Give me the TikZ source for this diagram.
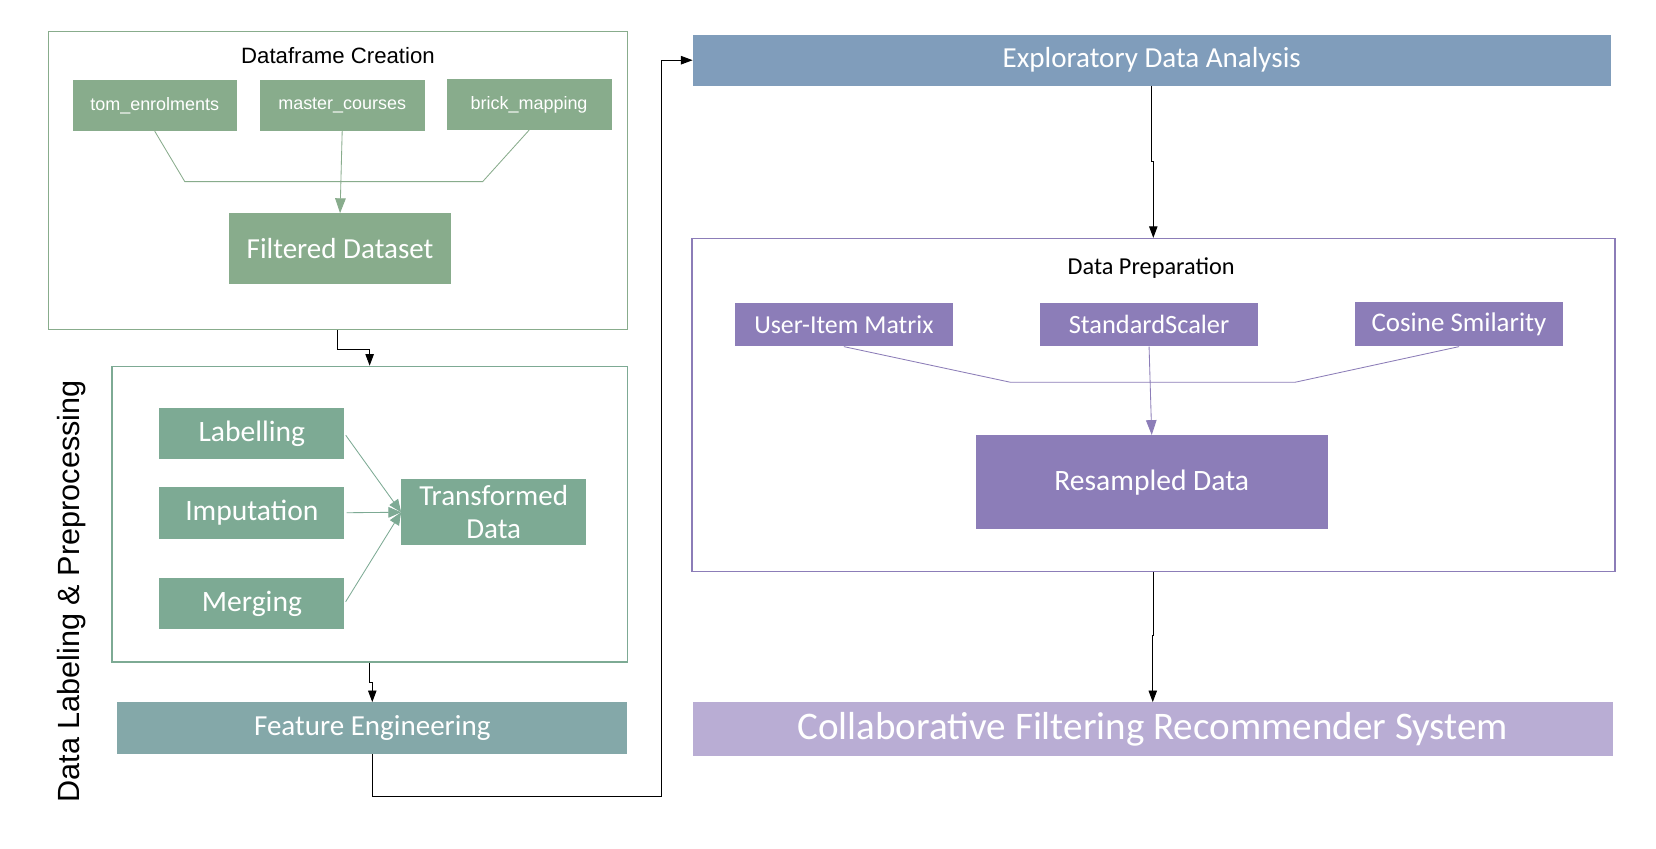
\documentclass[tikz,border=0pt]{standalone}
\usepackage{fontspec}
\setmainfont{Carlito}
\newfontfamily\widefont{Liberation Sans}
\usetikzlibrary{arrows.meta}
\definecolor{mygreen}{RGB}{136,172,140}
\definecolor{myteal}{RGB}{125,170,148}
\definecolor{mygrey}{RGB}{132,168,169}
\definecolor{myblue}{RGB}{128,157,187}
\definecolor{mypurple}{RGB}{140,125,184}
\definecolor{mylilac}{RGB}{185,173,212}

\begin{document}
\begin{tikzpicture}[x=1pt, y=-1pt,
  box/.style={rectangle, inner sep=0pt, text=white, align=center},
  frame/.style={draw, line width=1.5pt, fill=white, inner sep=0pt},
  link/.style={line width=0.9pt, -{Triangle[length=11pt,width=8pt]}},
  thin/.style={line width=0.8pt}]
  \useasboundingbox (0,0) rectangle (1568,803);

  % Dataframe creation
  \node[frame, draw=mygreen, minimum width=548, minimum height=282] (df) at (320,171) {};
  \node (dftitle) at (320,53) {\widefont\fontsize{21}{24}\selectfont Dataframe Creation};
  \node[box, fill=mygreen, minimum width=155, minimum height=48, font=\widefont\fontsize{17}{20}\selectfont] (tom) at (146.5,100) {tom\_enrolments};
  \node[box, fill=mygreen, minimum width=156, minimum height=48, font=\widefont\fontsize{17}{20}\selectfont] (master) at (324,100) {master\_courses};
  \node[box, fill=mygreen, minimum width=156, minimum height=48, font=\widefont\fontsize{17}{20}\selectfont] (brick) at (501,99) {brick\_mapping};
  \node[box, fill=mygreen, minimum width=210, minimum height=67, font=\fontsize{27.5}{30}\selectfont] (filt) at (322,235.5) {Filtered Dataset};
  \coordinate (gl) at (175,172);
  \coordinate (gr) at (457,172);
  \draw[thin, mygreen] (tom.south) -- (gl) -- (gr) -- (brick.south);
  \draw[thin, mygreen, -{Triangle[length=14pt,width=10pt]}] (master.south) -- (filt.north);

  % Preprocessing
  \node[frame, draw=myteal, minimum width=488, minimum height=280] (prep) at (350,487) {};
  \node[box, fill=myteal, minimum width=175, minimum height=49, font=\fontsize{28}{30}\selectfont] (lab) at (238.5,410.5) {Labelling};
  \node[box, fill=myteal, minimum width=175, minimum height=49, font=\fontsize{28}{30}\selectfont] (imp) at (238.5,485.5) {Imputation};
  \node[box, fill=myteal, minimum width=175, minimum height=49, font=\fontsize{28}{30}\selectfont] (mer) at (238.5,571.5) {Merging};
  \node[box, fill=myteal, minimum width=175, minimum height=62, font=\fontsize{27.5}{31}\selectfont] (trans) at (467.5,485) {Transformed\\Data};
  \foreach \n in {lab,imp,mer}
    \draw[thin, myteal, shorten <=2pt, -{Triangle[length=12pt,width=10pt]}] (\n.east) -- (trans.west);
  \node[rotate=90, font=\widefont\fontsize{29}{32}\selectfont] (side) at (68,560) {Data Labeling \& Preprocessing};

  % Feature engineering
  \node[box, fill=mygrey, minimum width=483, minimum height=49, font=\fontsize{27.5}{30}\selectfont] (fe) at (352.5,689.5) {Feature Engineering};

  % EDA
  \node[box, fill=myblue, minimum width=869, minimum height=48, font=\fontsize{27.5}{30}\selectfont] (eda) at (1090.5,57) {Exploratory Data Analysis};

  % Data preparation
  \node[frame, draw=mypurple, minimum width=874, minimum height=315] (dp) at (1092,383.5) {};
  \node (dptitle) at (1090,254) {\fontsize{23}{26}\selectfont Data Preparation};
  \node[box, fill=mypurple, minimum width=206, minimum height=41, font=\fontsize{24.5}{28}\selectfont] (uim) at (799,307.5) {User-Item Matrix};
  \node[box, fill=mypurple, minimum width=206, minimum height=41, font=\fontsize{25}{28}\selectfont] (ss) at (1088,307.5) {StandardScaler};
  \node[box, fill=mypurple, minimum width=197, minimum height=42, font=\fontsize{25.5}{28}\selectfont] (cos) at (1381.5,307) {Cosine Smilarity};
  \node[box, fill=mypurple, minimum width=333, minimum height=89, font=\fontsize{28}{30}\selectfont] (res) at (1090.5,456.5) {Resampled Data};
  \coordinate (pl) at (957,362);
  \coordinate (pr) at (1226,362);
  \draw[thin, mypurple] (uim.south) -- (pl) -- (pr) -- (cos.south);
  \draw[thin, mypurple, -{Triangle[length=14pt,width=10pt]}] (ss.south) -- (res.north);

  % Recommender
  \node[box, fill=mylilac, minimum width=871, minimum height=51, font=\fontsize{37}{42}\selectfont] (cf) at (1091.5,690.5) {Collaborative Filtering Recommender System};

  % Arrows
  \coordinate (turn) at (626,754);
  \draw[link] (df.south) -- ++(0,18) -| (prep.north);
  \draw[link] (prep.south) -- ++(0,18) -| (fe.north);
  \draw[link] (fe.south) |- (turn) |- (eda.west);
  \draw[link] (eda.south) -- ++(0,72) -| (dp.north);
  \draw[link] (dp.south) -- ++(0,60) -| (cf.north);
\end{tikzpicture}
\end{document}
